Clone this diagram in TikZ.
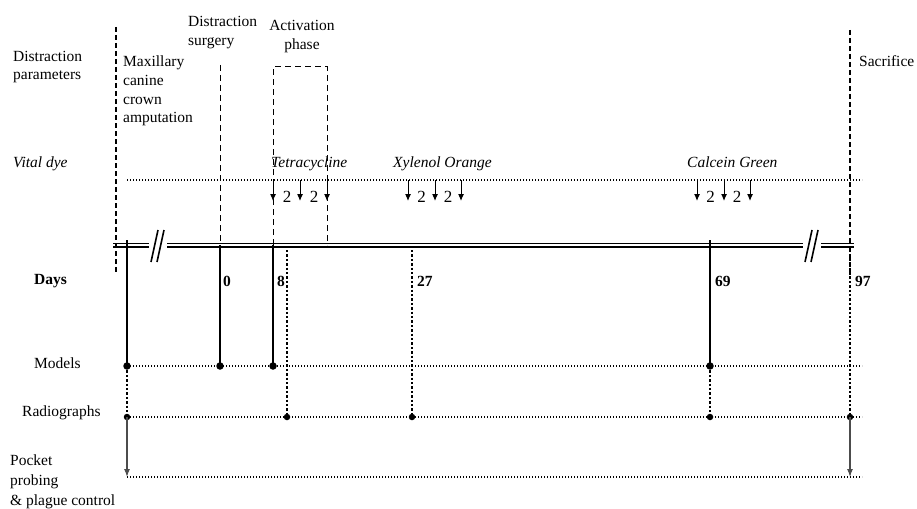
\documentclass[tikz,border=0pt]{standalone}
\usepackage{fontspec}
\setmainfont{Liberation Serif}
\usetikzlibrary{arrows.meta}
\begin{document}
\begin{tikzpicture}[x=1pt,y=-1pt]
\tikzset{
 txt/.style={font=\fontsize{15.5}{19}\selectfont, inner sep=0pt, anchor=base west},
 ctxt/.style={txt, anchor=base},
 itxt/.style={txt, font=\fontsize{15.5}{19}\selectfont\itshape},
 btxt/.style={txt, font=\fontsize{15.5}{19}\selectfont\bfseries},
 numtxt/.style={ctxt, font=\fontsize{17}{19}\selectfont},
 thickdash/.style={line width=2.2pt, dash pattern=on 5pt off 3pt},
 thindash/.style={line width=1pt, dash pattern=on 6pt off 4pt},
 thindot/.style={line width=1.2pt, dash pattern=on 1.2pt off 1.8pt},
 thickdot/.style={line width=2.6pt, dash pattern=on 2.4pt off 2pt},
 solidv/.style={line width=1.7pt},
 event/.style={circle, fill=black, inner sep=0pt, minimum size=7.5pt},
 revent/.style={circle, fill=black, inner sep=0pt, minimum size=6.5pt},
 dyearrow/.style={line width=1pt, -{Latex[length=7pt,width=6pt]}},
 probe/.style={gray!60!black, line width=1.1pt, -{Latex[length=8pt,width=6pt]}},
 tltop/.style={line width=1.4pt},
 tlbot/.style={line width=2.3pt},
 brk/.style={line width=1.6pt},
}
\useasboundingbox (0,0) rectangle (917,508);

% ---------- horizontal dotted guide lines
\coordinate (dyeL) at (127,180); \coordinate (dyeR) at (862,180);
\coordinate (modL) at (127,366); \coordinate (modR) at (862,366);
\coordinate (radL) at (127,417); \coordinate (radR) at (862,417);
\coordinate (pktL) at (127,477); \coordinate (pktR) at (862,477);
\draw[thindot] (dyeL) -- (dyeR);
\draw[thindot] (modL) -- (modR);
\draw[thindot] (radL) -- (radR);
\draw[thindot] (pktL) -- (pktR);

% ---------- timeline (double rule, upper thin, lower thick)
\foreach \a/\b in {113/149,167/803,821/854}{
  \coordinate (u\a) at (\a,243.6); \coordinate (v\a) at (\b,243.6);
  \coordinate (w\a) at (\a,247.3); \coordinate (z\a) at (\b,247.3);
  \draw[tltop] (u\a) -- (v\a);
  \draw[tlbot] (w\a) -- (z\a);
}
\coordinate (s1a) at (151,262); \coordinate (s1b) at (158,230);
\coordinate (s2a) at (157,262); \coordinate (s2b) at (164,230);
\coordinate (s3a) at (805,262); \coordinate (s3b) at (812,230);
\coordinate (s4a) at (811,262); \coordinate (s4b) at (818,230);
\draw[brk] (s1a) -- (s1b);
\draw[brk] (s2a) -- (s2b);
\draw[brk] (s3a) -- (s3b);
\draw[brk] (s4a) -- (s4b);

% ---------- event markers
\node[event] (m0) at (127,366) {};
\node[event] (m1) at (220,366) {};
\node[event] (m2) at (273,366) {};
\node[event] (m3) at (710,366) {};
\node[revent] (r0) at (127,417) {};
\node[revent] (r1) at (287,417) {};
\node[revent] (r2) at (412,417) {};
\node[revent] (r3) at (710,417) {};
\node[revent] (r4) at (850,417) {};

% ---------- vertical lines
\coordinate (ampT) at (116,27); \coordinate (ampB) at (116,273);
\draw[thickdash] (ampT) -- (ampB);
\coordinate (sacT) at (850,30); \coordinate (sacB) at (850,275);
\draw[thickdash] (sacT) -- (sacB);

\coordinate (surT) at (220,65); \coordinate (surM) at (220,245);
\draw[thindash] (surT) -- (surM);
\draw[solidv] (surM) -- (m1.center);

\coordinate (actLB) at (273,245); \coordinate (actLT) at (273,67);
\coordinate (actRT) at (327,67); \coordinate (actRB) at (327,245);
\draw[thindash] (actLB) -- (actLT) -- (actRT) -- (actRB);
\draw[solidv] (actLB) -- (m2.center);

\coordinate (lT) at (127,240); \coordinate (lD) at (127,250);
\draw[line width=1.3pt] (lT) -- (m0.center);
\draw[thickdot] (lD) -- (m0.center);
\draw[thickdot] (m0.center) -- (r0.center);
\draw[probe] (r0.center) -- (pktL);

\coordinate (d8T) at (287,250);
\draw[thickdot] (d8T) -- (r1.center);
\coordinate (d27T) at (412,250);
\draw[thickdot] (d27T) -- (r2.center);
\coordinate (d69T) at (710,240); \coordinate (d69D) at (710,250);
\draw[line width=1.5pt] (d69T) -- (m3.center);
\draw[thickdot] (d69D) -- (m3.center);
\draw[thickdot] (m3.center) -- (r3.center);
\coordinate (d97T) at (850,250);
\draw[thickdot] (d97T) -- (r4.center);
\coordinate (pkt97) at (850,477);
\draw[probe] (r4.center) -- (pkt97);

% ---------- dye arrows
\foreach \n/\x in {a1/273,a2/300,a3/327,b1/408,b2/435,b3/461,c1/697,c2/724,c3/750}{
  \coordinate (\n T) at (\x,180); \coordinate (\n B) at (\x,201);
  \draw[dyearrow] (\n T) -- (\n B);
}
\foreach \n/\x in {ta/287,tb/314,xa/421.5,xb/448,ca/710.5,cb/737}{
  \node[numtxt] (\n) at (\x,202) {2};
}

% ---------- labels
\node[txt] (dp1) at (13,62) {Distraction};
\node[txt] (dp2) at (13,80) {parameters};
\node[txt] (am1) at (123,67) {Maxillary};
\node[txt] (am2) at (123,86) {canine};
\node[txt] (am3) at (123,104) {crown};
\node[txt] (am4) at (123,122) {amputation};
\node[txt] (ds1) at (188,27) {Distraction};
\node[txt] (ds2) at (188,46) {surgery};
\node[ctxt] (ap1) at (302,31) {Activation};
\node[ctxt] (ap2) at (302,50) {phase};
\node[txt] (sac) at (859,67) {Sacrifice};
\node[itxt] (vd) at (13,167) {Vital dye};
\node[itxt] (tet) at (271,167) {Tetracycline};
\node[itxt] (xyl) at (393,167) {Xylenol Orange};
\node[itxt] (cal) at (687,167) {Calcein Green};
\node[btxt] (days) at (34,284) {Days};
\node[btxt] (n0) at (223,286) {0};
\node[btxt] (n8) at (277,286) {8};
\node[btxt] (n27) at (417,286) {27};
\node[btxt] (n69) at (715,286) {69};
\node[btxt] (n97) at (855,286) {97};
\node[txt] (mod) at (34,368) {Models};
\node[txt] (rad) at (22,416) {Radiographs};
\node[txt] (pp1) at (10,465) {Pocket};
\node[txt] (pp2) at (10,485) {probing};
\node[txt] (pp3) at (10,505) {\& plague control};
\end{tikzpicture}
\end{document}
